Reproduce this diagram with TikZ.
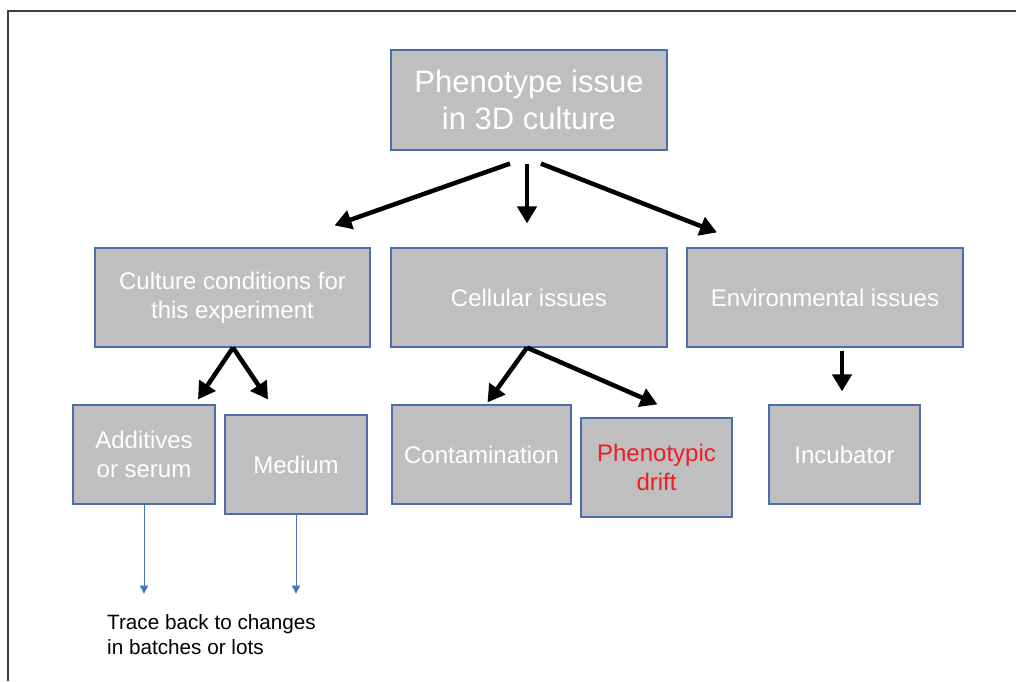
\documentclass[tikz,border=0pt]{standalone}
\usepackage{fontspec}
\setmainfont{Liberation Sans}
\usetikzlibrary{arrows.meta,calc}
\definecolor{boxfill}{HTML}{BFBFBF}
\definecolor{boxline}{HTML}{4A6EAE}
\definecolor{thinblue}{HTML}{4472C4}
\definecolor{drift}{HTML}{EE1C25}
\tikzset{
  box/.style={draw=boxline, line width=1.2pt, fill=boxfill, text=white, align=center,
    inner sep=0pt, font=\fontsize{24}{29}\selectfont},
  bigarrow/.style={line width=4.5pt, -{Triangle[length=17pt,width=19pt]}},
  thinarrow/.style={draw=thinblue, line width=1pt, -{Triangle[length=8pt,width=8pt]}, thinblue},
}
\begin{document}
\begin{tikzpicture}[x=1pt,y=-1pt]
\useasboundingbox (0,0) rectangle (1016,681);
\fill[white] (0,0) rectangle (1016,681);
\draw[line width=2pt, black!75] (8,681) -- (8,11) -- (1016,11);

\node[box, minimum width=276pt, minimum height=100pt, font=\fontsize{31}{37}\selectfont] (top) at (529,100) {Phenotype issue\\in 3D culture};

\node[box, minimum width=275pt, minimum height=99pt] (cult) at (232.5,297.5) {Culture conditions for\\this experiment};
\node[box, minimum width=276pt, minimum height=99pt] (cell) at (529,297.5) {Cellular issues};
\node[box, minimum width=276pt, minimum height=99pt] (env) at (825,297.5) {Environmental issues};

\node[box, minimum width=142pt, minimum height=99pt] (add) at (144,454.5) {Additives\\or serum};
\node[box, minimum width=142pt, minimum height=99pt] (med) at (296,464.5) {Medium};
\node[box, minimum width=179pt, minimum height=99pt] (cont) at (481.5,454.5) {Contamination};
\node[box, minimum width=151pt, minimum height=99pt, text=drift] (drift) at (656.5,467.5) {Phenotypic\\drift};
\node[box, minimum width=151pt, minimum height=99pt] (inc) at (844.5,454.5) {Incubator};

\node[anchor=north west, align=left, inner sep=0pt, font=\fontsize{20.7}{25}\selectfont] (trace) at (107,614) {Trace back to changes\\in batches or lots};

% level 1 arrows
\draw[bigarrow] ($(top.south)+(-19,13)$) -- ($(cult.north)+(102,-22)$);
\draw[bigarrow] ($(top.south)+(-2,13)$) -- ($(cell.north)+(-2,-24)$);
\draw[bigarrow] ($(top.south)+(12,13)$) -- ($(env.north)+(-108,-15)$);

% level 2 arrows
\draw[bigarrow] ($(cult.south)+(0.5,0)$) -- ($(add.north)+(54,-5)$);
\draw[bigarrow] ($(cult.south)+(0.5,0)$) -- ($(med.north)+(-28,-15)$);
\draw[bigarrow] ($(cell.south)+(-2,0)$) -- ($(cont.north)+(6,-2)$);
\draw[bigarrow] ($(cell.south)+(-2,0)$) -- ($(drift.north)+(1,-13)$);
\draw[bigarrow] ($(env.south)+(17,3)$) -- ($(inc.north)+(-2.5,-13)$);

% thin blue arrows
\draw[thinarrow] (add.south) -- ($(add.south)+(0,89)$);
\draw[thinarrow] (med.south) -- ($(med.south)+(0,79)$);
\end{tikzpicture}
\end{document}
